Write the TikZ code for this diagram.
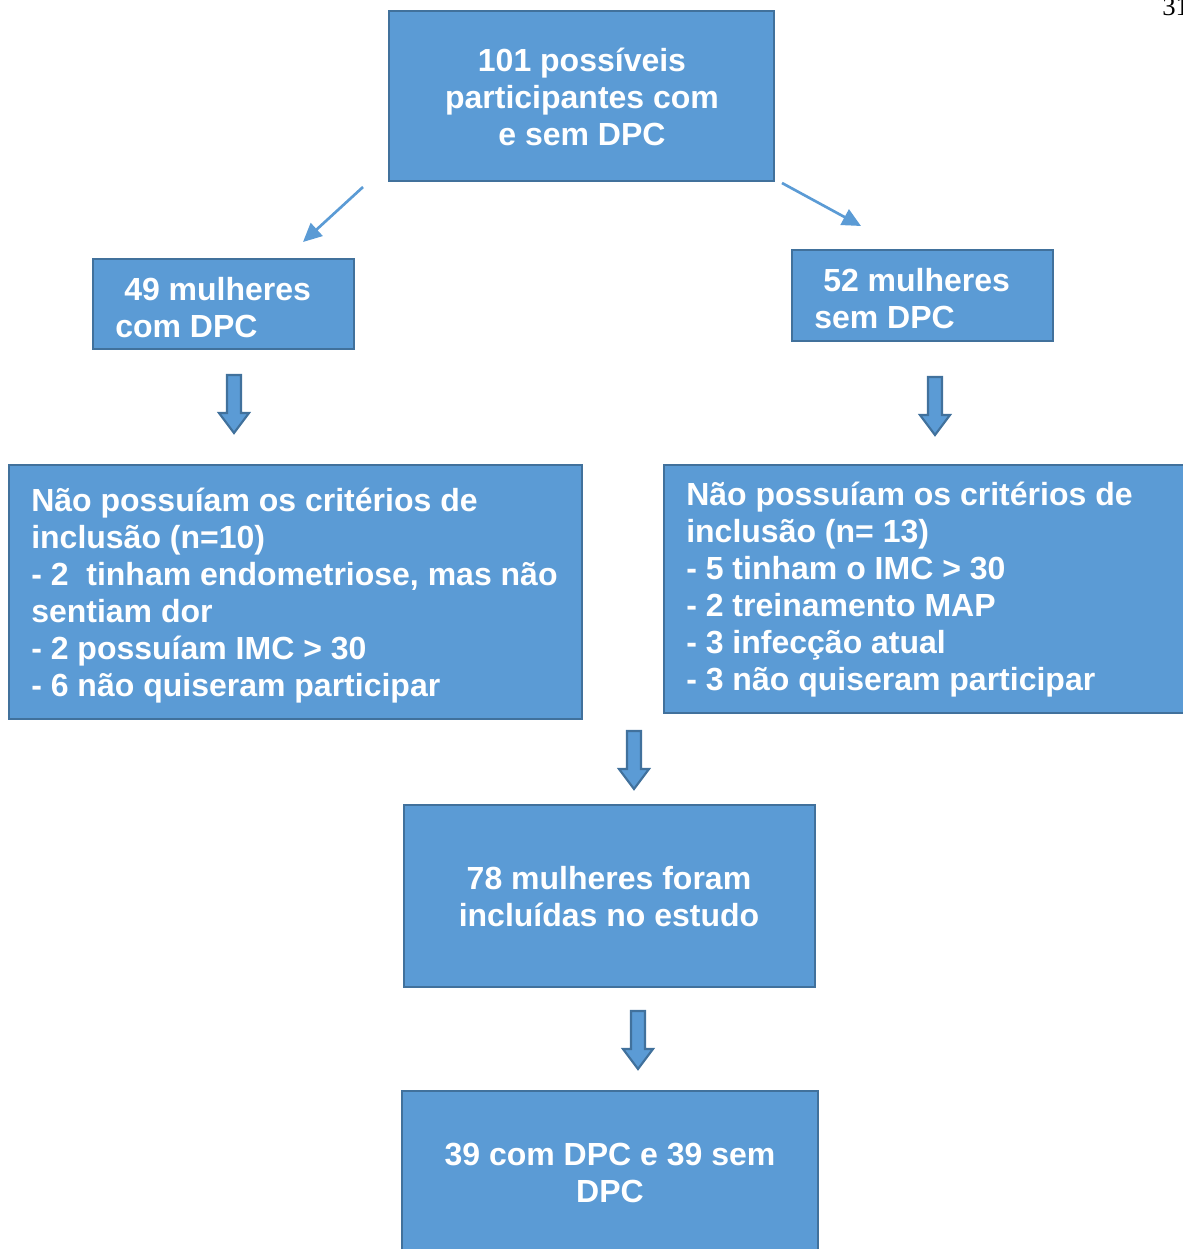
\documentclass[tikz,border=0pt]{standalone}
\usepackage{fontspec}
\setmainfont{Liberation Sans}
\newfontfamily\pagefont{Liberation Serif}
\usetikzlibrary{arrows.meta}
\definecolor{boxfill}{HTML}{5B9BD5}
\definecolor{boxline}{HTML}{41719C}
\tikzset{
  box/.style={draw=boxline, line width=1.6pt, fill=boxfill},
  txt/.style={text=white, font=\bfseries\fontsize{24pt}{27.75pt}\selectfont, inner sep=0pt},
  thinarrow/.style={draw=boxfill, line width=2pt, -{Triangle[length=14pt,width=13pt]}},
  blockarr/.style={draw=boxline, line width=1.6pt, fill=boxfill, line join=miter}
}
\newcommand\blockdown[3]{% x, ytop, ybottom
  \draw[blockarr] (#1-7,#2) -- (#1+7,#2) -- (#1+7,#3-20) -- (#1+15,#3-20) -- (#1,#3) -- (#1-15,#3-20) -- (#1-7,#3-20) -- cycle;}
\begin{document}
\begin{tikzpicture}[x=0.75pt,y=-0.75pt]
\useasboundingbox (0,0) rectangle (1182,1249);
\node[anchor=base west, inner sep=0pt, font=\pagefont\fontsize{20pt}{22pt}\selectfont] (pg) at (1162,15) {31};
% boxes
\path[box] (389,11) rectangle (774,181);
\coordinate (topL) at (363,187);
\coordinate (topR) at (782,183);
\node[txt, align=center, anchor=base] (t1) at (582,145) {101 possíveis\\participantes com\\e sem DPC};

\path[box] (93,259) rectangle (354,349);
\node[txt, align=left, anchor=base west] (t2) at (115,337) {\hspace*{6.75pt}49 mulheres\\com DPC};

\path[box] (792,250) rectangle (1053,341);
\node[txt, align=left, anchor=base west] (t3) at (814,328) {\hspace*{6.75pt}52 mulheres\\sem DPC};

\coordinate (l1) at (303,242);
\coordinate (r1) at (861,226);
\draw[thinarrow] (topL) -- (l1);
\draw[thinarrow] (topR) -- (r1);

\path[box] (9,465) rectangle (582,719);
\node[txt, align=left, anchor=base west] (t4) at (31,696) {Não possuíam os critérios de\\inclusão (n=10)\\- 2\ \ tinham endometriose, mas não\\sentiam dor\\- 2 possuíam IMC > 30\\- 6 não quiseram participar};

\path[box] (664,465) rectangle (1190,713);
\node[txt, align=left, anchor=base west] (t5) at (686,690) {Não possuíam os critérios de\\inclusão (n= 13)\\- 5 tinham o IMC > 30\\- 2 treinamento MAP\\- 3 infecção atual\\- 3 não quiseram participar};

\path[box] (404,805) rectangle (815,987);
\node[txt, align=center, anchor=base] (t6) at (609,926) {78 mulheres foram\\incluídas no estudo};

\path[box] (402,1091) rectangle (818,1260);
\node[txt, align=center, anchor=base] (t7) at (610,1202) {39 com DPC e 39 sem\\DPC};

\blockdown{234}{375}{433}
\blockdown{935}{377}{435}
\blockdown{634}{731}{789}
\blockdown{638}{1011}{1069}
\end{tikzpicture}
\end{document}
